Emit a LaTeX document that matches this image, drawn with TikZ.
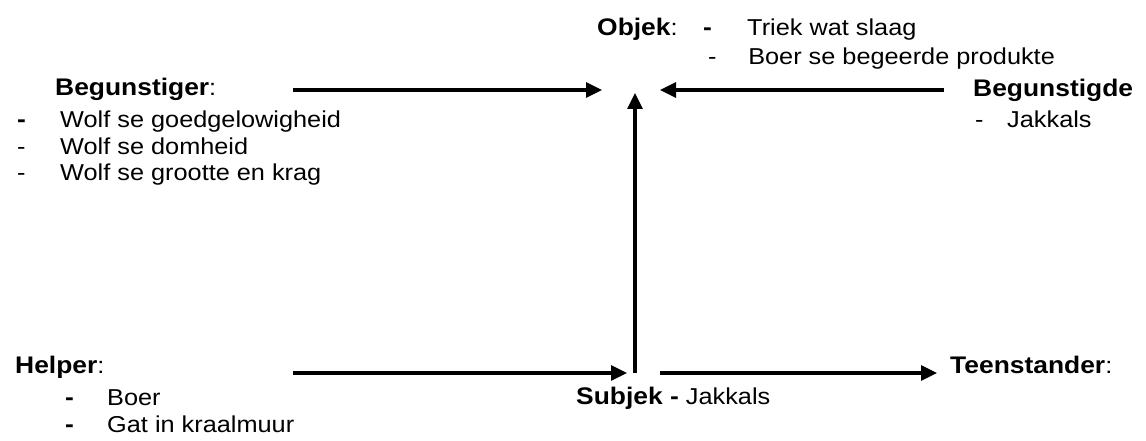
\documentclass[tikz,border=0pt]{standalone}
\usepackage{fontspec}
\setmainfont{Liberation Sans}
\usetikzlibrary{arrows.meta}

\newcommand{\vet}[1]{{\fontsize{24}{26}\selectfont\bfseries #1}}

\tikzset{
	txt/.style={inner sep=0pt, anchor=base west, xscale=1.1, font=\fontsize{23}{26}\selectfont},
	pyl/.style={-{Triangle[length=16pt,width=15pt]}, line width=3.1pt},
}

\begin{document}
\begin{tikzpicture}[x=1pt, y=-1pt]
		\useasboundingbox (0,0) rectangle (1146,441);
		
		% points where the arrows meet
		\coordinate (doel) at (635,90);
		\coordinate (kruis) at (635,373);
		\coordinate (begin-b) at (293,90);
		\coordinate (begin-bd) at (944,90);
		\coordinate (begin-h) at (293,373);
		
		% Objek
		\node[txt] (objek) at (597,36) {\vet{Objek}:};
		\node[txt] (objek-d) at (703,36) {\vet{-}};
		\node[txt] (objek1) at (747,36) {Triek wat slaag};
		\node[txt] (objek2) at (708,65) {\makebox[36.4pt][l]{-}Boer se begeerde produkte};
		
		% Begunstiger
		\node[txt] (begunstiger) at (55,96) {\vet{Begunstiger}:};
		\node[txt] (bg1) at (17,128) {\makebox[39.1pt][l]{\vet{-}}Wolf se goedgelowigheid};
		\node[txt] (bg2) at (17,155) {\makebox[39.1pt][l]{-}Wolf se domheid};
		\node[txt] (bg3) at (17,181) {\makebox[39.1pt][l]{-}Wolf se grootte en krag};
		
		% Begunstigde
		\node[txt] (begunstigde) at (973,97) {\vet{Begunstigde}};
		\node[txt] (bd1) at (975,128) {\makebox[29.1pt][l]{-}Jakkals};
		
		% Helper
		\node[txt] (helper) at (15,373) {\vet{Helper}:};
		\node[txt] (h1) at (65,405) {\makebox[38.2pt][l]{\vet{-}}Boer};
		\node[txt] (h2) at (65,432) {\makebox[38.2pt][l]{\vet{-}}Gat in kraalmuur};
		
		% Subjek en Teenstander
		\node[txt] (subjek) at (576,404) {\vet{Subjek -} Jakkals};
		\node[txt] (teenstander) at (950,373) {\vet{Teenstander}:};
		
		\draw[pyl] (begin-b) -- ([xshift=-33pt]doel);
		\draw[pyl] (begin-bd) -- ([xshift=25pt]doel);
		\draw[pyl] (kruis) -- ([yshift=-3pt]doel);
		\draw[pyl] (begin-h) -- ([xshift=-8pt]kruis);
		\draw[pyl] ([xshift=25pt]kruis) -- ([xshift=-13pt]teenstander.west |- kruis);
		
	\end{tikzpicture}
\end{document}
